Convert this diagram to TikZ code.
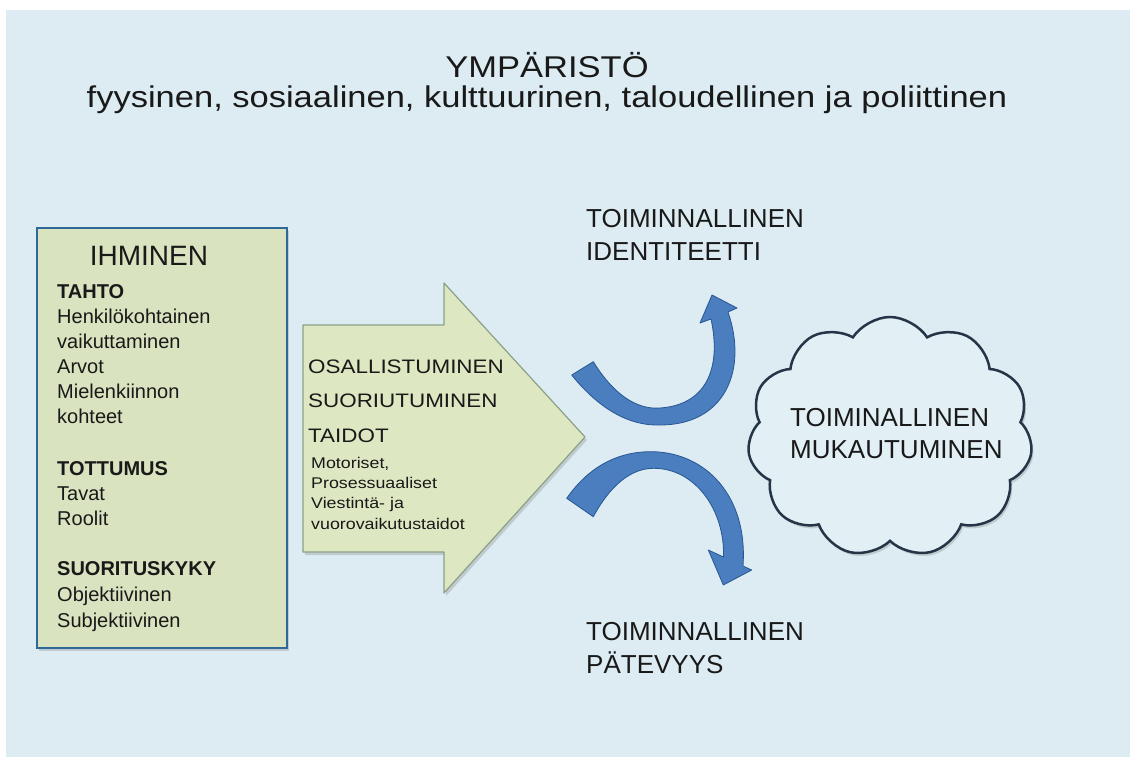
\documentclass[tikz,border=0pt]{standalone}
\usepackage{fontspec}
\setmainfont{Liberation Sans}
\newfontfamily\widesans[FakeStretch=1.15]{Liberation Sans}
\usetikzlibrary{shapes.symbols, shadows}

\definecolor{bgblue}{RGB}{220,236,242}
\definecolor{boxfill}{RGB}{217,227,191}
\definecolor{boxline}{RGB}{46,104,150}
\definecolor{arrowfill}{RGB}{221,231,194}
\definecolor{arrowline}{RGB}{140,160,135}
\definecolor{ribbon}{RGB}{74,126,191}
\definecolor{ribbonline}{RGB}{40,86,148}
\definecolor{cloudline}{RGB}{38,52,72}
\definecolor{cloudfill}{RGB}{226,239,245}
\definecolor{textdark}{RGB}{25,25,25}

\begin{document}
\begin{tikzpicture}[
  x=1pt, y=-1pt,
  txt/.style={inner sep=0pt, anchor=base west, align=left, text=textdark},
  boxshadow/.style={drop shadow={opacity=0.3, shadow xshift=2pt, shadow yshift=-3pt}},
  ribbonarrow/.style={fill=ribbon, draw=ribbonline, line width=0.8pt, line join=round}
]
\useasboundingbox (0,0) rectangle (1130,758);
\fill[bgblue] (6,10) rectangle (1130,757);

% environment
\node[txt, anchor=base, font=\widesans\fontsize{30}{30}\selectfont] (ymparisto) at (547,77) {YMPÄRISTÖ};
\node[txt, anchor=base, font=\widesans\fontsize{30}{30}\selectfont] (ymparistolaji) at (547,107)
  {fyysinen, sosiaalinen, kulttuurinen, taloudellinen ja poliittinen};

% person box (multi-line nodes sit on their last line)
\node[draw=boxline, fill=boxfill, line width=2.5pt, minimum width=250pt, minimum height=420pt, boxshadow]
  (ihminenbox) at (162,438) {};
\node[txt, anchor=base, font=\fontsize{28}{28}\selectfont] (ihminen) at (149,265) {IHMINEN};
\node[txt, font=\fontsize{20}{25}\selectfont] (tahto) at (57,423)
  {\textbf{TAHTO}\\Henkilökohtainen\\vaikuttaminen\\Arvot\\Mielenkiinnon\\kohteet};
\node[txt, font=\fontsize{20}{25}\selectfont] (tottumus) at (57,525)
  {\textbf{TOTTUMUS}\\Tavat\\Roolit};
\node[txt, font=\fontsize{20}{26}\selectfont] (suorituskyky) at (57,627)
  {\textbf{SUORITUSKYKY}\\Objektiivinen\\Subjektiivinen};

% big arrow
\filldraw[fill=arrowfill, draw=arrowline, line width=1.2pt, line join=round, boxshadow]
  (303,325) -- (444,325) -- (444,283) -- (585,437) -- (444,593) -- (444,552) -- (303,552) -- cycle;
\node[txt, font=\widesans\fontsize{19.5}{34.5}\selectfont] (osallistuminen) at (308,442)
  {OSALLISTUMINEN\\SUORIUTUMINEN\\TAIDOT};
\node[txt, font=\widesans\fontsize{15.5}{20.3}\selectfont] (taidot) at (311,529)
  {Motoriset,\\Prosessuaaliset\\Viestintä- ja\\vuorovaikutustaidot};

% curved arrows
\filldraw[ribbonarrow]
  (571.7,375) .. controls (600,410) and (630,426) .. (660,425)
  .. controls (725,425) and (748,370) .. (728,312) -- (737,308) -- (712,295) -- (700,323) -- (711,319)
  .. controls (722,370) and (705,405) .. (660,408)
  .. controls (635,410) and (612,392) .. (593.3,361.7) -- cycle;
\filldraw[ribbonarrow]
  (566.7,498.3) .. controls (590,465) and (620,451) .. (653.3,451.7)
  .. controls (705,453) and (748,495) .. (743,566) -- (751.7,570) -- (723.3,585) -- (708.3,550) -- (723.5,557)
  .. controls (725,510) and (695,468) .. (653.3,468.3)
  .. controls (625,468.5) and (605,495) .. (593.3,516.7) -- cycle;

\node[txt, font=\fontsize{26}{33}\selectfont] (identiteetti) at (586,260)
  {TOIMINNALLINEN\\IDENTITEETTI};
\node[txt, font=\fontsize{26}{33}\selectfont] (patevyys) at (586,673)
  {TOIMINNALLINEN\\PÄTEVYYS};

% cloud
\node[cloud, draw=cloudline, fill=cloudfill, line width=2.5pt, cloud puffs=11, cloud puff arc=115,
  cloud ignores aspect, minimum width=285pt, minimum height=240pt, boxshadow] (mukautuminen) at (890,437) {};
\node[txt, font=\fontsize{26}{31.5}\selectfont] (mukautuminenteksti) at (790,458)
  {TOIMINALLINEN\\MUKAUTUMINEN};
\end{tikzpicture}
\end{document}
